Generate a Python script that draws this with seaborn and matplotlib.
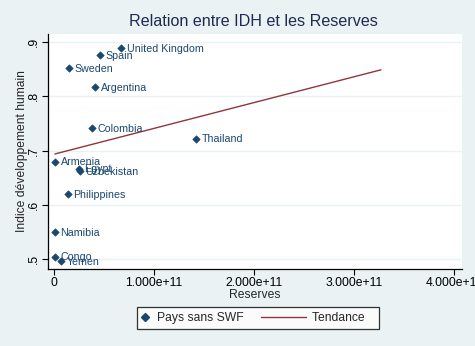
import matplotlib
matplotlib.use("Agg")
import matplotlib.pyplot as plt
import seaborn as sns
import pandas as pd
from matplotlib.lines import Line2D
from matplotlib.legend_handler import HandlerBase

countries = ["United Kingdom", "Spain", "Sweden", "Argentina", "Colombia", "Thailand",
             "Armenia", "Egypt", "Uzbekistan", "Philippines", "Namibia", "Congo", "Yemen"]
reserves = [0.67e11, 0.46e11, 0.15e11, 0.41e11, 0.38e11, 1.42e11,
            0.01e11, 0.25e11, 0.26e11, 0.14e11, 0.01e11, 0.01e11, 0.07e11]
idh = [0.889, 0.876, 0.852, 0.817, 0.741, 0.722,
       0.680, 0.667, 0.662, 0.620, 0.550, 0.505, 0.496]
trend_x = [0.01e11, 3.27e11]
trend_y = [0.694, 0.849]
xticks = [0, 1e11, 2e11, 3e11, 4e11]
xticklabels = ["0", "1.000e+11", "2.000e+11", "3.000e+11", "4.000e+11"]
yticks = [0.5, 0.6, 0.7, 0.8, 0.9]
yticklabels = [".5", ".6", ".7", ".8", ".9"]

df = pd.DataFrame({"country": countries, "reserves": reserves, "idh": idh})
tdf = pd.DataFrame({"x": trend_x, "y": trend_y})

sns.set_style("white")
plt.rcParams["font.family"] = ["Liberation Sans", "DejaVu Sans"]

BG = "#eaf2f3"
NAVY = "#1a476f"
MAROON = "#90353b"

fig = plt.figure(figsize=(4.75, 3.46), dpi=100, facecolor=BG)
ax = fig.add_axes([48/475, 1-269/346, (462-48)/475, (269-34)/346])
ax.set_facecolor("white")

for y in yticks:
    ax.axhline(y, color=BG, lw=1.0, zorder=0)

sns.lineplot(data=tdf, x="x", y="y", ax=ax, color=MAROON, lw=1.0, zorder=2)
sns.scatterplot(data=df, x="reserves", y="idh", ax=ax, marker="D", s=14,
                color=NAVY, edgecolor=NAVY, linewidth=0.5, zorder=3)
for c, x, y in zip(countries, reserves, idh):
    ax.annotate(c, (x, y), xytext=(4, -0.5), textcoords="offset points",
                ha="left", va="center", fontsize=7.7, color=NAVY, zorder=4)

ax.set_xlim(-0.06e11, 4.08e11)
ax.set_ylim(0.482, 0.915)
ax.set_xticks(xticks)
ax.set_xticklabels(xticklabels)
ax.set_yticks(yticks)
ax.set_yticklabels(yticklabels, rotation=90, va="center")
ax.tick_params(axis="both", which="both", direction="out", length=4, width=0.8,
               color="black", labelsize=8.7, labelcolor="black", pad=2,
               left=True, bottom=True)
for s in ["top", "right"]:
    ax.spines[s].set_visible(False)
for s in ["left", "bottom"]:
    ax.spines[s].set_color("black")
    ax.spines[s].set_linewidth(0.9)

ax.set_xlabel("Reserves", fontsize=8.7, labelpad=0)
ax.set_ylabel("Indice développement humain", fontsize=8.7, labelpad=0)
fig.suptitle("Relation entre IDH et les Reserves", x=253.5/475, y=1-22/346,
             va="center", fontsize=11.6, color="#202a50")


class MarkerHandler(HandlerBase):
    def create_artists(self, legend, orig_handle, xdescent, ydescent,
                       width, height, fontsize, trans):
        m = Line2D([width * 0.3 - xdescent], [height / 2 - ydescent],
                   marker="D", color=NAVY, ls="none", markersize=3.6,
                   transform=trans)
        return [m]


class LongLineHandler(HandlerBase):
    def create_artists(self, legend, orig_handle, xdescent, ydescent,
                       width, height, fontsize, trans):
        y = height / 2 - ydescent
        l = Line2D([width - xdescent - 32.4, width - xdescent], [y, y],
                   color=MAROON, lw=1.0, transform=trans)
        return [l]


h1 = Line2D([], [], marker="D", color=NAVY, ls="none")
h2 = Line2D([], [], color=MAROON)
leg = fig.legend([h1, h2], ["Pays sans SWF", "Tendance   "], ncol=2, loc="center",
                 bbox_to_anchor=(258/475, 1-318/346), fontsize=8.7,
                 frameon=True, fancybox=False, edgecolor="black",
                 handlelength=0.8, columnspacing=4.4, handletextpad=0.45,
                 borderpad=0.4,
                 handler_map={h1: MarkerHandler(), h2: LongLineHandler()})
leg.get_frame().set_linewidth(0.9)
leg.get_frame().set_facecolor("white")

fig.savefig("out.png", dpi=100, facecolor=BG)
